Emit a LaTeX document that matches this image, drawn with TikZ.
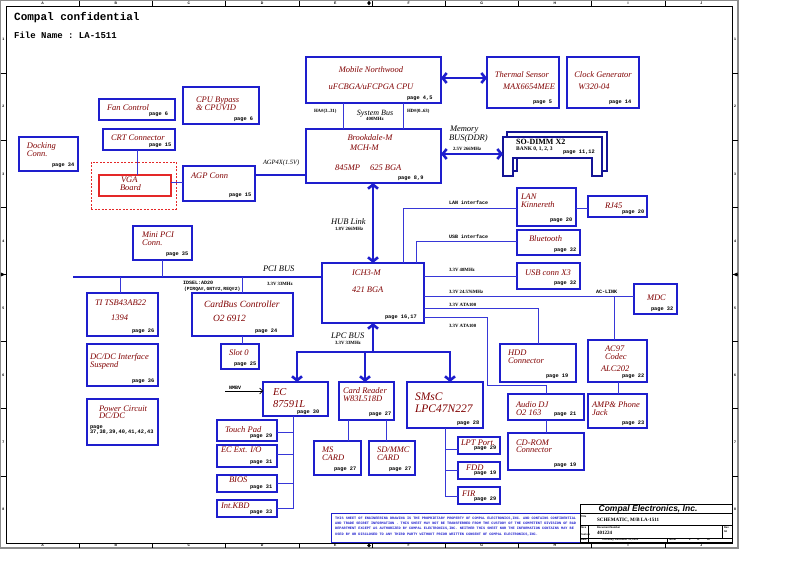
\documentclass[tikz,border=0pt]{standalone}
\usepackage{fontspec}
\setmainfont{Liberation Serif}
\setsansfont{Liberation Sans}
\setmonofont{Liberation Mono}
\usetikzlibrary{arrows.meta}
\definecolor{bblue}{RGB}{30,30,205}
\definecolor{lblue}{RGB}{55,55,215}
\definecolor{dblue}{RGB}{20,20,150}
\definecolor{dred}{RGB}{128,0,0}
\definecolor{vred}{RGB}{228,40,40}
\definecolor{fgray}{RGB}{140,140,140}
\newcommand{\fsz}[1]{\fontsize{#1}{#1}\selectfont}
\newcommand{\BX}[6][]{\node[boxst,minimum width={#4-#2},minimum height={#5-#3},#1] (#6) at (#2,#3) {};}
\newcommand{\TX}[4][]{\node[txt,#1] (#2) at (#3) {#4};}
\newcommand{\PG}[3]{\node[pg] (#1) at (#2) {#3};}
\tikzset{
  boxst/.style={draw=bblue,line width=1.3pt,anchor=north west,inner sep=0pt,outer sep=0pt},
  conn/.style={draw=lblue,line width=1pt},
  bus/.style={draw=bblue,line width=2.6pt},
  busar/.style={bus,-{Straight Barb[length=4pt,width=10pt]}},
  busartwo/.style={bus,{Straight Barb[length=4pt,width=10pt]}-{Straight Barb[length=4pt,width=10pt]}},
  txt/.style={anchor=west,inner sep=0pt,outer sep=0pt,text=dred,font=\fsz{8.5}\itshape,text height=6pt,text depth=0pt},
  lblk/.style={text=black},
  pg/.style={anchor=west,inner sep=0pt,outer sep=0pt,font=\ttfamily\bfseries\fsz{5.3},text height=3.7pt,text depth=0pt},
  lab/.style={anchor=west,inner sep=0pt,outer sep=0pt,font=\bfseries\fsz{4.8},text height=3.4pt,text depth=0pt},
  labm/.style={anchor=west,inner sep=0pt,outer sep=0pt,font=\ttfamily\bfseries\fsz{5},text height=3.5pt,text depth=0pt},
  rul/.style={inner sep=0pt,font=\sffamily\bfseries\fsz{3.5}},
  tiny/.style={anchor=west,inner sep=0pt,outer sep=0pt,font=\sffamily\bfseries\fsz{2.6},text height=1.8pt,text depth=0pt},
}
\begin{document}
\begin{tikzpicture}[x=1pt,y=-1pt]
\useasboundingbox (0,0) rectangle (793,561);
% ---------------- frame
\draw[fgray,line width=1.2pt] (0.6,0.6) rectangle (738,548);
\draw[black,line width=0.7pt] (6,6) rectangle (732,543);
\foreach \i in {1,...,9} {
  \draw[black,line width=0.6pt] ({6+73.2*\i},0.6) -- ({6+73.2*\i},6);
  \draw[black,line width=0.6pt] ({6+73.2*\i},543) -- ({6+73.2*\i},548);
}
\foreach \i in {1,...,7} {
  \draw[black,line width=0.6pt] (0.6,{6+67.125*\i}) -- (6,{6+67.125*\i});
  \draw[black,line width=0.6pt] (732,{6+67.125*\i}) -- (738,{6+67.125*\i});
}
\foreach \l [count=\i] in {A,B,C,D,E,F,G,H,I,J} {
  \node[rul] (rt\i) at ({6+73.2*(\i-0.5)},3.3) {\l};
  \node[rul] (rb\i) at ({6+73.2*(\i-0.5)},545.7) {\l};
}
\foreach \i in {1,...,8} {
  \node[rul] (rl\i) at (3.3,{6+67.125*(\i-0.5)}) {\i};
  \node[rul] (rr\i) at (735,{6+67.125*(\i-0.5)}) {\i};
}
\fill[black] (369,543.5) -- (370.8,545.5) -- (369,547.5) -- (367.2,545.5) -- cycle;
\fill[black] (369,0.8) -- (370.8,3) -- (369,5.5) -- (367.2,3) -- cycle;
\fill[black] (0.8,272.5) -- (5.5,274.5) -- (0.8,276.5) -- cycle;
\fill[black] (737.5,272.5) -- (732.5,274.5) -- (737.5,276.5) -- cycle;
% ---------------- heading
\node[anchor=west,inner sep=0pt,font=\ttfamily\bfseries\fsz{11},text height=6.5pt,text depth=0pt] (conf) at (14,17.5) {Compal confidential};
\node[anchor=west,inner sep=0pt,font=\ttfamily\bfseries\fsz{9},text height=5.3pt,text depth=0pt] (fname) at (14,36) {File Name : LA-1511};
% ---------------- boxes
\BX{99}{99}{175}{120}{fan}
\BX{183}{87}{259}{124}{cpub}
\BX{103}{129}{175}{150}{crt}
\BX{19}{137}{78}{171}{dock}
\BX[draw=vred,line width=0.8pt,dash pattern=on 2pt off 1.5pt]{91}{162}{176}{209}{vgad}
\BX[draw=vred]{99}{175}{171}{196}{vga}
\BX{183}{166}{255}{201}{agp}
\BX{306}{57}{441}{103}{cpu}
\BX{487}{57}{559}{108}{therm}
\BX{567}{57}{639}{108}{clk}
\BX{306}{129}{441}{183}{mch}
\BX{517}{188}{576}{226}{lan}
\BX{588}{196}{647}{217}{rj}
\BX{517}{230}{580}{255}{bt}
\BX{517}{263}{580}{289}{usb}
\BX{634}{284}{677}{314}{mdc}
\BX{588}{340}{647}{382}{ac97}
\BX{500}{344}{576}{382}{hdd}
\BX{508}{394}{584}{420}{adj}
\BX{508}{433}{584}{470}{cdrom}
\BX{588}{394}{647}{428}{amp}
\BX{322}{263}{424}{323}{ich}
\BX{133}{226}{192}{260}{mpci}
\BX{87}{293}{158}{336}{ieee}
\BX{192}{293}{293}{336}{cbus}
\BX{221}{344}{259}{369}{slot}
\BX{87}{344}{158}{386}{dcdc}
\BX{87}{399}{158}{445}{pwr}
\BX{263}{382}{328}{416}{ec}
\BX{217}{420}{277}{441}{tp}
\BX{217}{445}{277}{467}{extio}
\BX{217}{475}{277}{492}{bios}
\BX{217}{500}{277}{517}{kbd}
\BX{339}{382}{394}{420}{card}
\BX{314}{441}{361}{475}{ms}
\BX{369}{441}{415}{475}{sd}
\BX{407}{382}{483}{428}{smsc}
\BX{458}{437}{500}{454}{lpt}
\BX{458}{462}{500}{479}{fdd}
\BX{458}{487}{500}{504}{fir}
% SO-DIMM (stacked shapes)
\draw[draw=dblue,line width=1.8pt,fill=white] (507,132) -- (607,132) -- (607,171) -- (597,171) -- (597,153) -- (517,153) -- (517,171) -- (507,171) -- cycle;
\draw[draw=dblue,line width=1.8pt,fill=white] (503,137) -- (602,137) -- (602,176) -- (592,176) -- (592,158) -- (513,158) -- (513,176) -- (503,176) -- cycle;
\coordinate (dimm) at (503,154);
% ---------------- connectors
\draw[conn] (crt.south -| 137,0) -- (vga.north -| 137,0);
\draw[conn] (vga.east |- 0,183) -- (agp.west |- 0,183);
\draw[bus] (agp.east |- 0,175) -- (mch.west |- 0,175);
\draw[busartwo] (cpu.east |- 0,78) -- (therm.west |- 0,78);
\draw[conn] (cpu.south -| 343,0) -- (mch.north -| 343,0);
\draw[conn] (cpu.south -| 403,0) -- (mch.north -| 403,0);
\draw[busartwo] (mch.east |- 0,154) -- (dimm);
\draw[busartwo] (mch.south -| 373,0) -- (ich.north -| 373,0);
\draw[conn] (ich.north -| 403,0) |- (lan.west |- 0,209);
\draw[conn] (ich.north -| 416,0) |- (bt.west |- 0,242);
\draw[conn] (lan.east |- 0,209) -- (rj.west |- 0,209);
\draw[conn] (ich.east |- 0,277) -- (usb.west |- 0,277);
\draw[conn] (ich.east |- 0,297) -- (mdc.west |- 0,297);
\coordinate (acj) at (614,297);
\draw[conn] (acj) -- (ac97.north -| acj);
\draw[conn] (ac97.south -| 618,0) -- (amp.north -| 618,0);
\draw[conn] (ich.east |- 0,309) -| (hdd.north -| 538,0);
\coordinate (ataturn) at (487,386);
\draw[conn] (ich.east |- 0,318) -| (ataturn) -| (adj.north -| 546,0);
\draw[conn] (adj.south -| 546,0) -- (cdrom.north -| 546,0);
% PCI
\coordinate (pcil) at (73,277);
\draw[bus] (pcil) -- (ich.west |- pcil);
\draw[conn] (mpci.south) -- (mpci.south |- pcil);
\draw[conn] (ieee.north -| 120,0) -- (pcil -| 120,0);
\draw[conn] (cbus.north) -- (cbus.north |- pcil);
\draw[conn] (cbus.south) -- (slot.north -| cbus.south);
% LPC
\coordinate (lpcl) at (297,352);
\coordinate (lpcr) at (450,352);
\draw[bus,line cap=rect] (lpcl) -- (lpcr);
\draw[busar] (lpcl -| 373,0) -- (ich.south -| 373,0);
\draw[busar] (lpcl) -- (ec.north -| lpcl);
\draw[busar] (lpcl -| 365,0) -- (card.north -| 365,0);
\draw[busar] (lpcr) -- (smsc.north -| lpcr);
% EC
\coordinate (ect) at (ec.south -| 293,0);
\draw[conn] (ect) |- (kbd.east |- 0,508);
\draw[conn] (tp.east |- 0,432) -- (ect |- 0,432);
\draw[conn] (extio.east |- 0,454) -- (ect |- 0,454);
\draw[conn] (bios.east |- 0,483) -- (ect |- 0,483);
\coordinate (nmb) at (225,391);
\draw[black,line width=0.6pt,-{Straight Barb[length=3pt,width=6pt]}] (nmb) -- (ec.west |- nmb);
% card reader / SMsC
\draw[conn] (card.south -| 348,0) -- (ms.north -| 348,0);
\draw[conn] (card.south -| 386,0) -- (sd.north -| 386,0);
\coordinate (smt) at (smsc.south -| 445,0);
\draw[conn] (smt) |- (fir.west |- 0,496);
\draw[conn] (smt |- 0,449) -- (lpt.west |- 0,449);
\draw[conn] (smt |- 0,470) -- (fdd.west |- 0,470);
% ---------------- texts
\TX{tfan}{107,108}{Fan Control}
\PG{pfan}{149,114}{page 6}
\TX{tcpub1}{196,100}{CPU Bypass}
\TX{tcpub2}{196,108}{\& CPUVID}
\PG{pcpub}{234,119}{page 6}
\TX{tcrt}{111,138}{CRT Connector}
\PG{pcrt}{149,145}{page 15}
\TX{tdock1}{27,146}{Docking}
\TX{tdock2}{27,154}{Conn.}
\PG{pdock}{52,165}{page 34}
\TX{tvga1}{121,180}{VGA}
\TX{tvga2}{120,188}{Board}
\TX{tagp}{191,176}{AGP Conn}
\PG{pagp}{229,195}{page 15}
\TX[lblk,font=\fsz{6.5}\itshape,text height=4.6pt]{tagp4}{263,162}{AGP4X(1.5V)}
\TX[anchor=center]{tcpu1}{371,70}{Mobile Northwood}
\TX[anchor=center]{tcpu2}{371,87}{uFCBGA/uFCPGA CPU}
\PG{pcpu}{407,98}{page 4,5}
\TX[anchor=center]{tth1}{522,75}{Thermal Sensor}
\TX[anchor=center]{tth2}{529,87}{MAX6654MEE}
\PG{pth}{533,102}{page 5}
\TX[anchor=center]{tclk1}{603,75}{Clock Generator}
\TX[anchor=center]{tclk2}{594,87}{W320-04}
\PG{pclk}{609,102}{page 14}
\node[lab] (ha) at (314,111) {HA\#(3..31)};
\TX[lblk,anchor=center,font=\fsz{8}\itshape]{tsys}{375,113}{System Bus}
\node[lab,anchor=center] (sys4) at (375,119) {400MHz};
\node[lab] (hd) at (407,111) {HD\#(0..63)};
\TX[anchor=center]{tmch1}{370,138}{Brookdale-M}
\TX{tmch2}{350,148}{MCH-M}
\TX{tmch3}{335,168}{845MP}
\TX{tmch4}{370,168}{625 BGA}
\PG{pmch}{398,178}{page 8,9}
\TX[lblk]{tmem1}{450,129}{Memory}
\TX[lblk]{tmem2}{449,138}{BUS(DDR)}
\node[lab] (mem3) at (453,149) {2.5V 266MHz};
\node[anchor=west,inner sep=0pt,font=\bfseries\fsz{8},text height=5.5pt,text depth=0pt] (tdimm1) at (516,142) {SO-DIMM X2};
\node[anchor=west,inner sep=0pt,font=\bfseries\fsz{5.5},text height=3.8pt,text depth=0pt] (tdimm2) at (516,149) {BANK 0, 1, 2, 3};
\PG{pdimm}{563,152}{page 11,12}
\TX[lblk]{thub}{331,222}{HUB Link}
\node[lab] (hub2) at (335,229) {1.8V 266MHz};
\TX{tich1}{352,273}{ICH3-M}
\TX{tich2}{352,290}{421 BGA}
\PG{pich}{385,317}{page 16,17}
\node[lab] (l48) at (449,270) {3.3V 48MHz};
\node[lab] (l24) at (449,292) {3.3V 24.576MHz};
\node[lab] (lata1) at (449,305) {3.3V ATA100};
\node[lab] (lata2) at (449,326) {3.3V ATA100};
\node[labm] (llan) at (449,203) {LAN interface};
\node[labm] (lusb) at (449,237) {USB interface};
\node[labm] (lac) at (596,292) {AC-LINK};
\TX{tlan1}{521,197}{LAN}
\TX{tlan2}{521,205}{Kinnereth}
\PG{plan}{550,220}{page 20}
\TX{trj}{605,206}{RJ45}
\PG{prj}{622,212}{page 20}
\TX{tbt}{529,239}{Bluetooth}
\PG{pbt}{554,250}{page 32}
\TX{tusb}{525,273}{USB conn X3}
\PG{pusb}{554,283}{page 32}
\TX{tmdc}{647,298}{MDC}
\PG{pmdc}{651,309}{page 32}
\TX{tac1}{605,349}{AC97}
\TX{tac2}{605,357}{Codec}
\TX{tac3}{601,369}{ALC202}
\PG{pac}{622,376}{page 22}
\TX{thdd1}{508,353}{HDD}
\TX{thdd2}{508,361}{Connector}
\PG{phdd}{546,376}{page 19}
\TX{tadj1}{516,404}{Audio DJ}
\TX{tadj2}{516,412}{O2 163}
\PG{padj}{554,414}{page 21}
\TX{tcd1}{516,442}{CD-ROM}
\TX{tcd2}{516,450}{Connector}
\PG{pcd}{554,465}{page 19}
\TX{tamp1}{592,404}{AMP\& Phone}
\TX{tamp2}{592,412}{Jack}
\PG{pamp}{622,423}{page 23}
\TX[lblk]{tpci}{263,269}{PCI BUS}
\node[lab] (pci2) at (267,284) {3.3V 33MHz};
\TX{tmpci1}{142,235}{Mini PCI}
\TX{tmpci2}{142,243}{Conn.}
\PG{pmpci}{166,254}{page 35}
\TX{tieee1}{95,303}{TI TSB43AB22}
\TX{tieee2}{111,318}{1394}
\PG{pieee}{132,331}{page 26}
\TX[font=\fsz{9.5}\itshape,text height=6.6pt]{tcb1}{204,304}{CardBus Controller}
\TX[font=\fsz{9.5}\itshape,text height=6.6pt]{tcb2}{213,318}{O2 6912}
\PG{pcb}{255,331}{page 24}
\node[labm] (ids1) at (183,283) {IDSEL:AD20};
\node[labm,font=\ttfamily\bfseries\fsz{4.7}] (ids2) at (184,289) {(PIRQA\#,GNT\#2,REQ\#2)};
\TX{tslot}{229,353}{Slot 0}
\PG{pslot}{234,364}{page 25}
\TX{tdc1}{90,357}{DC/DC Interface}
\TX{tdc2}{90,365}{Suspend}
\PG{pdc}{132,381}{page 36}
\TX{tpw1}{99,408}{Power Circuit}
\TX{tpw2}{99,416}{DC/DC}
\PG{pp1}{90,427}{page}
\PG{pp2}{90,432}{37,38,39,40,41,42,43}
\TX[font=\fsz{10.5}\itshape,text height=7.2pt]{tec1}{273,392}{EC}
\TX[font=\fsz{10.5}\itshape,text height=7.2pt]{tec2}{273,403.5}{87591L}
\PG{pec}{297,411.5}{page 30}
\node[labm] (nmbl) at (229,388) {NMBV};
\TX{ttp}{225,429}{Touch Pad}
\PG{ptp}{250,436}{page 29}
\TX{tio}{221,450}{EC Ext. I/O}
\PG{pio}{250,462}{page 31}
\TX{tbios}{229,479}{BIOS}
\PG{pbios}{250,487}{page 31}
\TX{tkbd}{221,505}{Int.KBD}
\PG{pkbd}{250,512}{page 33}
\TX[lblk]{tlpc}{331,336}{LPC BUS}
\node[lab] (lpc2) at (335,343) {3.3V 33MHz};
\TX{tcr1}{343,391}{Card Reader}
\TX{tcr2}{343,399}{W83L518D}
\PG{pcr}{369,414}{page 27}
\TX{tms1}{322,449}{MS}
\TX{tms2}{322,457}{CARD}
\PG{pms}{334,469}{page 27}
\TX{tsd1}{377,449}{SD/MMC}
\TX{tsd2}{377,457}{CARD}
\PG{psd}{389,469}{page 27}
\TX[font=\fsz{11.5}\itshape,text height=8pt]{tsm1}{415,396.5}{SMsC}
\TX[font=\fsz{11.5}\itshape,text height=8pt]{tsm2}{415,408.5}{LPC47N227}
\PG{psm}{457,423}{page 28}
\TX{tlpt}{461,442}{LPT Port.}
\PG{plpt}{474,448}{page 29}
\TX{tfdd}{466,467}{FDD}
\PG{pfdd}{474,473}{page 19}
\TX{tfir}{462,493}{FIR}
\PG{pfir}{474,499}{page 29}
% ---------------- disclaimer and title block
\node[draw=bblue,line width=0.8pt,anchor=north west,minimum width=249,minimum height=29,inner sep=0pt,outer sep=0pt] (disc) at (331,513) {};
\node[anchor=north west,inner sep=0pt,align=left,text=bblue,font=\ttfamily\bfseries\fontsize{3.52}{5.35}\selectfont] (disct) at (335,516.6) {THIS SHEET OF ENGINEERING DRAWING IS THE PROPRIETARY PROPERTY OF COMPAL ELECTRONICS,INC. AND CONTAINS CONFIDENTIAL\\AND TRADE SECRET INFORMATION . THIS SHEET MAY NOT BE TRANSFERRED FROM THE CUSTODY OF THE COMPETENT DIVISION OF R\&D\\DEPARTMENT EXCEPT AS AUTHORIZED BY COMPAL ELECTRONICS,INC. NEITHER THIS SHEET NOR THE INFORMATION CONTAINS MAY BE\\USED BY OR DISCLOSED TO ANY THIRD PARTY WITHOUT PRIOR WRITTEN CONSENT OF COMPAL ELECTRONICS,INC.};
\draw[black,line width=0.9pt] (580,504) rectangle (732,542);
\draw[black,line width=0.7pt] (580,513.5) -- (732,513.5);
\draw[black,line width=0.7pt] (580,525) -- (732,525);
\draw[black,line width=0.7pt] (580,538) -- (732,538);
\draw[black,line width=0.5pt] (588,525) -- (588,542);
\draw[black,line width=0.5pt] (722,525) -- (722,538);
\draw[black,line width=0.5pt] (667,538) -- (667,542);
\node[anchor=center,inner sep=0pt,font=\sffamily\bfseries\itshape\fsz{8.5}] (cei) at (648,509) {Compal Electronics, Inc.};
\node[tiny] (ttl) at (581,517) {Title};
\node[anchor=west,inner sep=0pt,font=\bfseries\fsz{5},text height=3.4pt,text depth=0pt] (sch) at (597,519.5) {SCHEMATIC, M/B LA-1511};
\node[tiny] (sz) at (581,527.5) {Size};
\node[tiny] (cust) at (580.5,535) {Custom};
\node[tiny] (dn) at (597,527.5) {Document Number};
\node[anchor=west,inner sep=0pt,font=\bfseries\fsz{5},text height=3.4pt,text depth=0pt] (docn) at (597,532.5) {401224};
\node[tiny] (rev) at (724,528) {Rev};
\node[tiny] (revv) at (724,532) {0A};
\node[tiny] (dt) at (581,540) {Date:};
\node[tiny] (dtv) at (602,540) {Thursday, December 11, 2003};
\node[tiny] (sh) at (669,540) {Sheet};
\node[tiny] (sh2) at (689,540) {2};
\node[tiny] (sh3) at (697,540) {of};
\node[tiny] (sh4) at (707,540) {43};
\end{tikzpicture}
\end{document}
